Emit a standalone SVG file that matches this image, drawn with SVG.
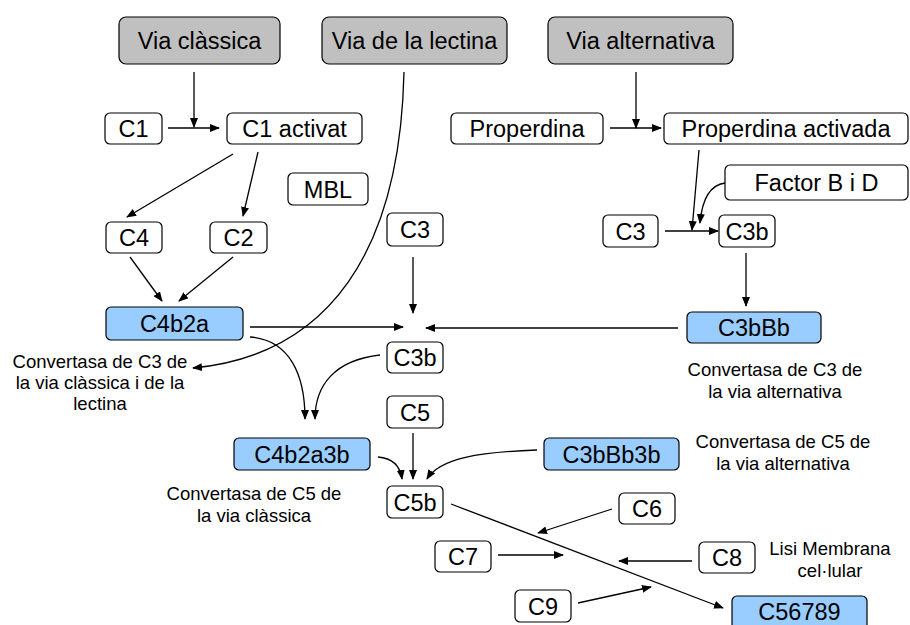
<svg xmlns="http://www.w3.org/2000/svg" width="910" height="625" viewBox="0 0 910 625">
<style>
.box{fill:#fff;stroke:#000;stroke-width:1.2}
.gray{fill:#c0c0c0;stroke:#000;stroke-width:1.2}
.blue{fill:#99ccff;stroke:#000;stroke-width:1.2}
.lbl{font-family:"Liberation Sans",Arial,sans-serif;font-size:23.5px;text-anchor:middle;fill:#000}
.note{font-family:"Liberation Sans",Arial,sans-serif;font-size:18.5px;text-anchor:middle;fill:#000}
.edge{fill:none;stroke:#000;stroke-width:1.3;marker-end:url(#ah)}
</style>
<defs>
<marker id="ah" markerUnits="userSpaceOnUse" markerWidth="10" markerHeight="8" refX="9" refY="4" orient="auto">
<path d="M0,0 L10,4 L0,8 z" fill="#000"/>
</marker>
</defs>
<rect width="910" height="625" fill="#fff"/>
<g id="connectors">
<path class="edge" d="M194,72 V127"/>
<path class="edge" d="M168,128 H219"/>
<path class="edge" d="M404,72 C400,250 330,355 193,368"/>
<path class="edge" d="M233,154 L127,217"/>
<path class="edge" d="M258,152 L243,216"/>
<path class="edge" d="M130,257 L162,301"/>
<path class="edge" d="M233,257 L179,301"/>
<path class="edge" d="M610,128 H661"/>
<path class="edge" d="M636,72 V128"/>
<path class="edge" d="M699,150 L692,230"/>
<path class="edge" d="M725,183 C710,185 702,200 700,223"/>
<path class="edge" d="M665,231 H718"/>
<path class="edge" d="M746,253 V306"/>
<path class="edge" d="M413,257 V313"/>
<path class="edge" d="M250,327 H403"/>
<path class="edge" d="M678,328 H426"/>
<path class="edge" d="M250,337 C290,340 305,375 305,419"/>
<path class="edge" d="M380,355 C335,360 315,385 315,419"/>
<path class="edge" d="M413,433 V479"/>
<path class="edge" d="M378,457 C392,458 400,465 402,479"/>
<path class="edge" d="M537,450 C480,452 440,458 427,479"/>
<path class="edge" d="M451,504 L723,608"/>
<path class="edge" d="M612,509 L538,533"/>
<path class="edge" d="M498,555 H563"/>
<path class="edge" d="M692,561 H619"/>
<path class="edge" d="M578,603 L651,587"/>
</g>
<g id="via_classica"><rect class="gray" x="119" y="17" width="161" height="47" rx="7"/><text class="lbl" x="199.5" y="49">Via clàssica</text></g>
<g id="via_lectina"><rect class="gray" x="322" y="17" width="185" height="47" rx="7"/><text class="lbl" x="414.5" y="49">Via de la lectina</text></g>
<g id="via_alternativa"><rect class="gray" x="548" y="17" width="185" height="47" rx="7"/><text class="lbl" x="640.5" y="49">Via alternativa</text></g>
<g id="c1"><rect class="box" x="105" y="113" width="57" height="31" rx="5"/><text class="lbl" x="133.5" y="137">C1</text></g>
<g id="c1_activat"><rect class="box" x="227" y="113" width="135" height="31" rx="5"/><text class="lbl" x="294.5" y="137">C1 activat</text></g>
<g id="properdina"><rect class="box" x="451" y="113" width="152" height="31" rx="5"/><text class="lbl" x="527" y="137">Properdina</text></g>
<g id="properdina_activada"><rect class="box" x="664" y="113" width="244" height="31" rx="5"/><text class="lbl" x="786" y="137">Properdina activada</text></g>
<g id="mbl"><rect class="box" x="288" y="173" width="80" height="32" rx="5"/><text class="lbl" x="328" y="198">MBL</text></g>
<g id="factor_bd"><rect class="box" x="725" y="165" width="183" height="35" rx="5"/><text class="lbl" x="816.5" y="191">Factor B i D</text></g>
<g id="c4"><rect class="box" x="106" y="222" width="56" height="31" rx="5"/><text class="lbl" x="134" y="246">C4</text></g>
<g id="c2"><rect class="box" x="210" y="222" width="57" height="31" rx="5"/><text class="lbl" x="238.5" y="246">C2</text></g>
<g id="c3_mid"><rect class="box" x="387" y="213" width="56" height="33" rx="5"/><text class="lbl" x="415" y="238">C3</text></g>
<g id="c3_right"><rect class="box" x="603" y="215" width="55" height="32" rx="5"/><text class="lbl" x="630.5" y="240">C3</text></g>
<g id="c3b_right"><rect class="box" x="719" y="215" width="56" height="32" rx="5"/><text class="lbl" x="747" y="240">C3b</text></g>
<g id="c4b2a"><rect class="blue" x="106" y="307" width="137" height="33" rx="5"/><text class="lbl" x="174.5" y="332">C4b2a</text></g>
<g id="c3bbb"><rect class="blue" x="687" y="312" width="134" height="31" rx="5"/><text class="lbl" x="754" y="336">C3bBb</text></g>
<g id="c3b_mid"><rect class="box" x="387" y="342" width="56" height="31" rx="5"/><text class="lbl" x="415" y="366">C3b</text></g>
<g id="c5"><rect class="box" x="387" y="396" width="56" height="32" rx="5"/><text class="lbl" x="415" y="421">C5</text></g>
<g id="c4b2a3b"><rect class="blue" x="234" y="438" width="136" height="32" rx="5"/><text class="lbl" x="302" y="463">C4b2a3b</text></g>
<g id="c3bbb3b"><rect class="blue" x="544" y="438" width="135" height="32" rx="5"/><text class="lbl" x="611.5" y="463">C3bBb3b</text></g>
<g id="c5b"><rect class="box" x="387" y="486" width="56" height="32" rx="5"/><text class="lbl" x="415" y="511">C5b</text></g>
<g id="c6"><rect class="box" x="619" y="493" width="56" height="31" rx="5"/><text class="lbl" x="647" y="517">C6</text></g>
<g id="c7"><rect class="box" x="435" y="541" width="56" height="31" rx="5"/><text class="lbl" x="463" y="565">C7</text></g>
<g id="c8"><rect class="box" x="699" y="542" width="56" height="31" rx="5"/><text class="lbl" x="727" y="566">C8</text></g>
<g id="c9"><rect class="box" x="515" y="590" width="56" height="32" rx="5"/><text class="lbl" x="543" y="615">C9</text></g>
<g id="c56789"><rect class="blue" x="732" y="596" width="135" height="35" rx="5"/><text class="lbl" x="799.5" y="620">C56789</text></g>
<g id="notes">
<text class="note" x="100" y="368">Convertasa de C3 de</text>
<text class="note" x="100" y="389">la via clàssica i de la</text>
<text class="note" x="100" y="410">lectina</text>
<text class="note" x="775" y="376">Convertasa de C3 de</text>
<text class="note" x="775" y="398">la via alternativa</text>
<text class="note" x="783" y="448">Convertasa de C5 de</text>
<text class="note" x="783" y="470">la via alternativa</text>
<text class="note" x="254" y="500">Convertasa de C5 de</text>
<text class="note" x="254" y="522">la via clàssica</text>
<text class="note" x="830" y="555">Lisi Membrana</text>
<text class="note" x="830" y="577">cel·lular</text>
</g>
</svg>
